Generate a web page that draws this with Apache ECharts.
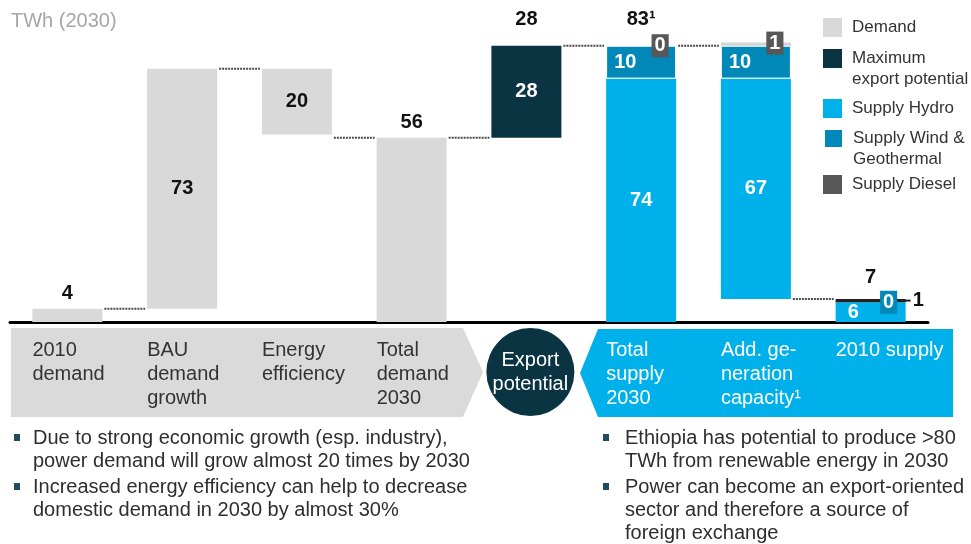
<!DOCTYPE html>
<html>
<head>
<meta charset="utf-8">
<script src="https://cdn.jsdelivr.net/npm/echarts@6/dist/echarts.min.js"></script>
<style>
html, body { margin: 0; padding: 0; background: #fff; }
#chart { width: 971px; height: 544px; }
</style>
</head>
<body>
<div id="chart"></div>
<script>
// TWh, 2030 waterfall: demand build-up vs supply
const categories = ['2010\ndemand', 'BAU\ndemand\ngrowth', 'Energy\nefficiency', 'Total\ndemand\n2030', 'Export\npotential', 'Total\nsupply\n2030', 'Add. ge-\nneration\ncapacity¹', '2010 supply']
const floatBase = [0, 4, 57, 0, 56, 0, 7, 0]
const demand = [4, 73, 20, 56, null, null, null, null]
const exportPotential = [null, null, null, null, 28, null, null, null]
const supplyHydro = [null, null, null, null, null, 74, 67, 6]
const supplyWind = [null, null, null, null, null, 10, 10, 0]
const supplyDiesel = [null, null, null, null, null, 0, 1, 1]
const connectorLevels = [4, 77, 56, 56, 84, 84, 7]
const totalLabels = ['', '', '', '', '28', '83¹', '', '7']
const leftNotes = [
  'Due to strong economic growth (esp. industry),\npower demand will grow almost 20 times by 2030',
  'Increased energy efficiency can help to decrease\ndomestic demand in 2030 by almost 30%'
]
const rightNotes = [
  'Ethiopia has potential to produce >80\nTWh from renewable energy in 2030',
  'Power can become an export-oriented\nsector and therefore a source of\nforeign exchange'
]

const FONT = "'Liberation Sans', Arial, sans-serif"
const C = {
  demand: '#d9d9d9',
  export: '#0b3443',
  hydro: '#00b0ea',
  wind: '#0088b8',
  diesel: '#575757',
  text: '#2b2b2b'
}
// a leading blank line keeps the first text line level with the legend square
const legendNames = {
  'Demand': 'Demand',
  'Maximum export potential': '\nMaximum\nexport potential',
  'Supply Hydro': 'Supply Hydro',
  'Supply Wind & Geothermal': '\nSupply Wind &\nGeothermal',
  'Supply Diesel': 'Supply Diesel'
}

const chart = echarts.init(document.getElementById('chart'))

const valueLabel = { show: true, fontFamily: FONT, fontSize: 20, fontWeight: 'bold' }
const boxLabel = (bg, dx, dy) => ({
  show: true, position: 'inside', offset: [dx, dy], color: '#fff', backgroundColor: bg,
  padding: [2, 3, 1, 3], fontFamily: FONT, fontSize: 20, fontWeight: 'bold'
})

const stackTop = categories.map((_, i) =>
  [floatBase, demand, exportPotential, supplyHydro, supplyWind, supplyDiesel]
    .reduce((s, arr) => s + (arr[i] || 0), 0))

const legendItem = (name, top) => ({
  data: [name], left: 823, top, orient: 'vertical', padding: 0,
  itemWidth: 19, itemHeight: 19, icon: 'rect', selectedMode: false,
  formatter: n => legendNames[n],
  textStyle: {
    fontFamily: FONT, fontSize: 17, color: '#333', lineHeight: 21,
    padding: [0, 0, 0, 5]
  }
})

const option = {
  animation: false,
  title: {
    text: 'TWh (2030)', left: 11, top: 11, padding: 0,
    textStyle: { fontFamily: FONT, fontSize: 20, fontWeight: 'normal', color: '#a6a6a6' }
  },
  legend: [
    legendItem('Demand', 17),
    legendItem('Maximum export potential', 27),
    legendItem('Supply Hydro', 98),
    legendItem('Supply Wind & Geothermal', 107),
    legendItem('Supply Diesel', 174)
  ],
  grid: { left: 10, right: 43, top: 26, bottom: 222 },
  xAxis: {
    type: 'category',
    data: categories,
    axisLine: { lineStyle: { color: '#000', width: 3 } },
    axisTick: { show: false },
    axisLabel: { show: false }
  },
  yAxis: { type: 'value', min: 0, max: 90, show: false },
  series: [
    {
      name: 'base', type: 'bar', stack: 'w', barWidth: 70, silent: true,
      itemStyle: { color: 'transparent' },
      data: floatBase
    },
    {
      name: 'Demand', type: 'bar', stack: 'w',
      itemStyle: { color: C.demand },
      label: { ...valueLabel, color: '#111' },
      data: demand.map((v, i) => v == null ? null : {
        value: v, label: { position: (i === 0 || i === 3) ? 'top' : 'inside' }
      })
    },
    {
      name: 'Maximum export potential', type: 'bar', stack: 'w',
      itemStyle: { color: C.export },
      label: { ...valueLabel, position: 'inside', color: '#fff' },
      data: exportPotential
    },
    {
      name: 'Supply Hydro', type: 'bar', stack: 'w',
      itemStyle: { color: C.hydro },
      label: { ...valueLabel, position: 'inside', color: '#fff' },
      data: supplyHydro.map((v, i) => v == null ? null : (i === 7
        ? { value: v, label: { position: 'insideLeft', distance: 12 } }
        : v))
    },
    {
      name: 'Supply Wind & Geothermal', type: 'bar', stack: 'w',
      itemStyle: { color: C.wind, borderColor: '#fff', borderWidth: 1 },
      label: { ...valueLabel, position: 'insideLeft', distance: 8, color: '#fff' },
      data: supplyWind.map((v, i) => v == null ? null : (i === 7
        ? { value: v, itemStyle: { borderWidth: 0 }, label: boxLabel(C.wind, 18, 0) }
        : v))
    },
    {
      name: 'Supply Diesel', type: 'bar', stack: 'w',
      itemStyle: { color: C.diesel },
      data: supplyDiesel.map((v, i) => {
        if (v == null) return null
        if (i === 7) {
          return {
            value: v, itemStyle: { color: '#222' },
            label: {
              show: true, position: 'right', offset: [-12, 0],
              formatter: '{l|}{v|{c}}',
              rich: {
                l: { width: 12, height: 2, backgroundColor: '#222' },
                v: { fontFamily: FONT, fontSize: 20, fontWeight: 'bold', color: '#111', padding: [0, 0, 0, 2] }
              }
            }
          }
        }
        return {
          value: v,
          itemStyle: i === 6 ? { color: '#d4d4d4' } : undefined,
          label: boxLabel(C.diesel, 19, i === 6 ? -1 : 0)
        }
      })
    },
    {
      name: 'connectors', type: 'custom', silent: true, z: 1,
      encode: { x: 0, y: 1 },
      data: connectorLevels.map((v, i) => [i, v]),
      renderItem: (params, api) => {
        const p0 = api.coord([api.value(0), api.value(1)])
        const p1 = api.coord([api.value(0) + 1, api.value(1)])
        return {
          type: 'line',
          shape: { x1: p0[0] + 37, y1: p0[1], x2: p1[0] - 37, y2: p1[1] },
          style: { stroke: '#4a4a4a', lineWidth: 2, lineDash: [2, 1] }
        }
      }
    },
    {
      name: 'totals', type: 'custom', silent: true,
      encode: { x: 0, y: 1 },
      data: totalLabels.map((t, i) => [i, stackTop[i]]).filter((d, i) => totalLabels[i] !== ''),
      renderItem: (params, api) => {
        const idx = api.value(0)
        const p = api.coord([idx, api.value(1)])
        return {
          type: 'text',
          style: {
            text: totalLabels[idx], x: p[0], y: p[1] - (idx === 7 ? 21 : 26),
            align: 'center', verticalAlign: 'middle',
            font: 'bold 20px ' + FONT, fill: '#111'
          }
        }
      }
    }
  ]
}

chart.setOption(option)

// band under the axis with category names, bullets below
const xAt = i => chart.convertToPixel({ xAxisIndex: 0 }, i)
const half = 35
const graphics = [
  {
    type: 'polygon', z: 0,
    shape: { points: [[11, 328], [463, 328], [483, 372], [463, 417], [11, 417]] },
    style: { fill: '#dadada' }
  },
  {
    type: 'polygon', z: 0,
    shape: { points: [[598, 329], [953, 329], [953, 417], [598, 417], [580, 373]] },
    style: { fill: C.hydro }
  },
  {
    type: 'circle', z: 1,
    shape: { cx: xAt(4) + 4, cy: 372, r: 44 },
    style: { fill: C.export }
  }
]
categories.forEach((name, i) => {
  if (i === 4) {
    graphics.push({
      type: 'text', z: 2,
      style: {
        text: name, x: xAt(i) + 4, y: 372, align: 'center', verticalAlign: 'middle',
        font: '20px ' + FONT, lineHeight: 24, fill: '#fff'
      }
    })
    return
  }
  graphics.push({
    type: 'text', z: 2,
    style: {
      text: name, x: xAt(i) - half, y: 338, align: 'left', verticalAlign: 'top',
      font: '20px ' + FONT, lineHeight: 24, fill: i < 4 ? '#333' : '#fff'
    }
  })
})
const addNotes = (notes, bulletX, textX) => {
  let y = 427
  notes.forEach(n => {
    graphics.push({ type: 'rect', shape: { x: bulletX, y: y + 7, width: 6, height: 7 }, style: { fill: '#1f4c5e' } })
    graphics.push({
      type: 'text',
      style: { text: n, x: textX, y, align: 'left', verticalAlign: 'top', font: '20px ' + FONT, lineHeight: 23, fill: '#2e2e2e' }
    })
    y += n.split('\n').length * 23 + 3
  })
}
addNotes(leftNotes, 14, 33)
addNotes(rightNotes, 603, 625)

chart.setOption({ graphic: graphics })
</script>
</body>
</html>
